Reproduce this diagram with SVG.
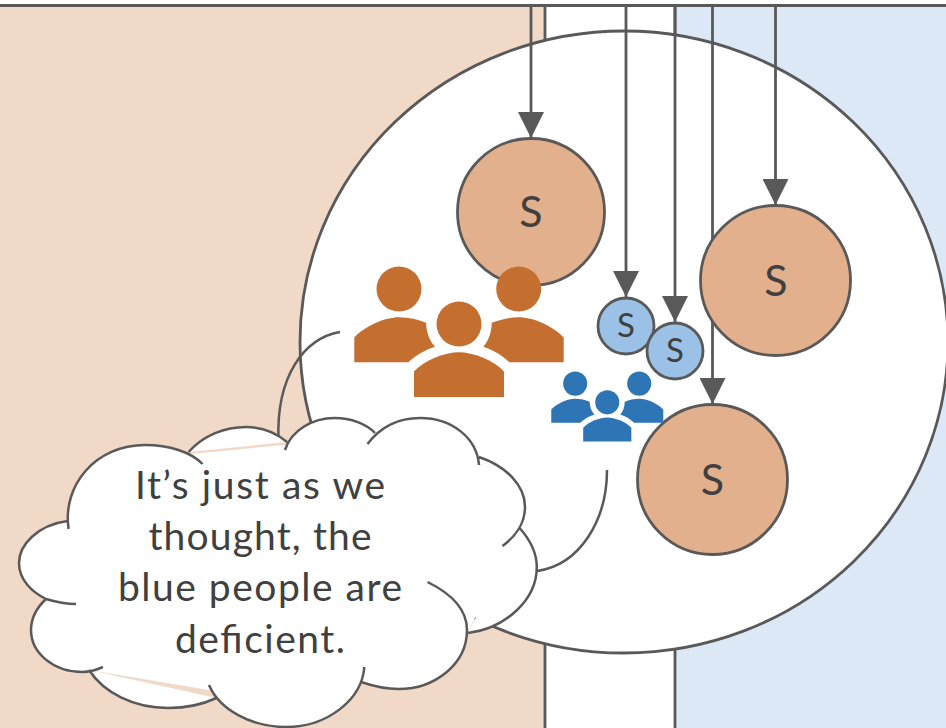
<svg xmlns="http://www.w3.org/2000/svg" width="946" height="728" viewBox="0 0 946 728">
<style>
.ln{fill:none;stroke:#595959;stroke-width:2.8}
.thin{fill:none;stroke:#595959;stroke-width:2.5}
.big{fill:#e3b08e;stroke:#595959;stroke-width:2.8}
.small{fill:#9bc2e6;stroke:#595959;stroke-width:2.8}
.t{font-family:"Lato","Open Sans",sans-serif;fill:#404040;text-anchor:middle}
.s{font-size:43px}
.ss{font-size:33px}
.c{font-size:39px}
.or{fill:#c46e30}
.bl{fill:#2e75b6}
</style>
<defs>
<marker id="ah" markerUnits="userSpaceOnUse" markerWidth="26" markerHeight="26" refX="26" refY="13" orient="auto"><path d="M0,0L26,13L0,26Z" fill="#595959"/></marker>
<g id="people">
<circle cx="399" cy="289" r="22.5"/><circle cx="518.7" cy="289" r="22.5"/><circle cx="459" cy="324" r="22.5"/>
<path d="M354.3,362.3V337.5C365,326 385,317.3 399,317.3C409,317.3 418,319.5 426,322.7C426.5,332 429,340 435,346.7C425,350 416,355 408.3,362.3Z"/>
<path d="M563.7,362.3V337.5C553,326 533,317.3 518.7,317.3C509,317.3 500,319.5 491.7,322.7C491.5,332 489,340 483.3,346.7C493,350 502,355 509.3,362.3Z"/>
<path d="M414,397V371.5C425,360 445,352.3 459,352.3C473,352.3 493,360 504,371.5V397Z"/>
</g>
</defs>
<g id="background">
<rect x="0" y="0" width="545" height="728" fill="#f1d9c8"/>
<rect x="545" y="0" width="130" height="728" fill="#fff"/>
<rect x="675" y="0" width="271" height="728" fill="#dde8f6"/>
<rect x="0" y="0" width="946" height="5" fill="#fff"/>
<path class="ln" d="M545,6V728M675,6V728"/>
<path d="M0,5.500H946" fill="none" stroke="#595959" stroke-width="2.8"/>
</g>
<ellipse id="field" cx="624" cy="342" rx="324" ry="311" fill="#fff" stroke="#595959" stroke-width="2.8"/>
<g id="connectors">
<path class="ln" marker-end="url(#ah)" d="M531,6V138"/>
<path class="ln" marker-end="url(#ah)" d="M626,6V297"/>
<path class="ln" marker-end="url(#ah)" d="M675,6V322"/>
<path class="ln" marker-end="url(#ah)" d="M712.500,6V404"/>
<path class="ln" marker-end="url(#ah)" d="M775.500,6V205"/>
<path class="thin" d="M340,332C305,338 276,375 278.500,440"/>
<path class="thin" d="M607,470C607,520 580,565 537,571"/>
</g>
<g id="node-s1"><circle class="big" cx="531" cy="212" r="73.5"/><text class="t s" x="531" y="227">S</text></g>
<g id="node-s2"><circle class="big" cx="775.500" cy="280.500" r="75"/><text class="t s" x="776" y="296">S</text></g>
<g id="node-s3"><circle class="big" cx="712.500" cy="479.500" r="75"/><text class="t s" x="712.500" y="495">S</text></g>
<g id="node-s4"><circle class="small" cx="626" cy="326" r="28"/><text class="t ss" x="626" y="337">S</text></g>
<g id="node-s5"><circle class="small" cx="675" cy="351" r="28"/><text class="t ss" x="675" y="362">S</text></g>
<use id="people-orange" href="#people" class="or"/>
<use id="people-blue" href="#people" class="bl" transform="translate(361.7 229) scale(.535)"/>
<g id="cloud">
<path d="M66,524L191,454L283,445L370,436L479,461L519,528L468,632L361,682L209,690L89,670L46,599Z" fill="#fff"/>
<path fill="#fff" stroke="#595959" stroke-width="2.5" d="M76,604C64,604 56,602 46,599C32,592 19,580 19,563C19,545 37.500,525 67.500,521M68.600,529C62,485 96,445 145,445C169,445 191,452 202.500,464M188.600,452C203.600,435 225,427 246.400,427C262.500,427 276.400,433 287,442M285,450C291.400,430 313,418 334.300,418C351.400,418 366.400,424 375,433M367.500,444C380.400,427 398.600,418 420,418C452,418 476.800,438 479,465M479,457C505.700,466 525,485 525,507C525,522 516.400,536 502.500,546M519.600,528C530.300,540 536.800,553 536.800,567C536.800,600 505.700,628 468.200,633M427.500,582C452,594 467,610 467,630C467,664 435,689 398.600,689C385.700,689 372.900,686 361,682M364.300,667C362,700 326.800,727 286,727C251.800,727 219.600,710 209,685M216.400,698C201.400,705 184.300,708 168.200,708C134,708 104,693 89,670M102.900,667C96.400,670 89,672 82.500,672C53.600,672 31,653 31,630C31,618 36.400,608 46,599"/>
<text class="t c" x="260" y="499" textLength="250">It’s just as we</text>
<text class="t c" x="260" y="550" textLength="223">thought, the</text>
<text class="t c" x="260" y="601" textLength="284">blue people are</text>
<text class="t c" x="260" y="653" textLength="170">deficient.</text>
</g>
</svg>
